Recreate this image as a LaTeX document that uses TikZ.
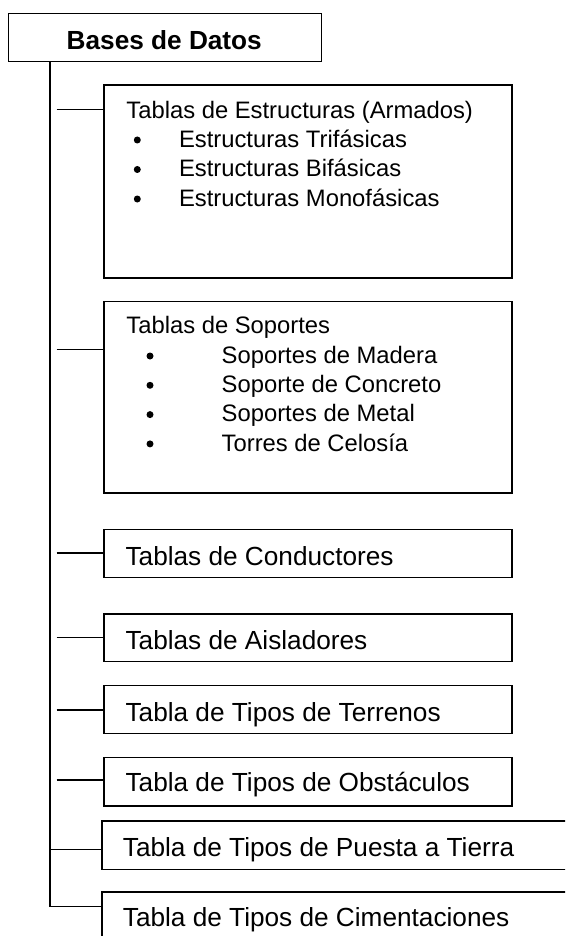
\documentclass[tikz,border=0pt]{standalone}
\usepackage{fontspec}
\setmainfont{Liberation Sans}
\begin{document}
\begin{tikzpicture}[x=1pt,y=-1pt,
  box/.style={draw, line width=1.4pt, rectangle, inner sep=0pt, outer sep=0pt},
  link/.style={line width=1.4pt},
  small/.style={anchor=base west, inner sep=0pt, font=\fontsize{23.8}{28}\selectfont},
  big/.style={anchor=base west, inner sep=0pt, font=\fontsize{26.2}{30}\selectfont},
  dot/.style={circle, fill=black, inner sep=0pt, minimum size=7pt}]
\useasboundingbox (0,0) rectangle (565,936);
\clip (0,0) rectangle (565,936);
\fill[white] (0,0) rectangle (565,936);

% boxes
\node[box, minimum width=313.4pt, minimum height=48.4pt] (top) at (165,37.5) {};
\node[box, minimum width=408pt, minimum height=193pt] (b1) at (308,181.5) {};
\node[box, minimum width=408pt, minimum height=191.3pt] (b2) at (308,397.35) {};
\node[box, minimum width=408pt, minimum height=48pt] (b3) at (308,553.3) {};
\node[box, minimum width=408pt, minimum height=47.7pt] (b4) at (308,637.85) {};
\node[box, minimum width=408pt, minimum height=47.6pt] (b5) at (308,709.5) {};
\node[box, minimum width=408pt, minimum height=48.7pt] (b6) at (308,781.65) {};
\node[box, minimum width=498pt, minimum height=48.3pt] (b7) at (351,845.15) {};
\node[box, minimum width=498pt, minimum height=88pt] (b8) at (351,936) {};

% texts
\node[big, font=\fontsize{26.2}{30}\selectfont\bfseries] (ttop) at (66.5,50) {Bases de Datos};

\node[small] (t1) at (126.2,118.3) {Tablas de Estructuras (Armados)};
\node[dot] (d11) at (137.3,140) {};
\node[dot] (d12) at (137.3,169.5) {};
\node[dot] (d13) at (137.3,199) {};
\node[small] (t11) at (178.8,147.3) {Estructuras Trifásicas};
\node[small] (t12) at (178.8,176.8) {Estructuras Bifásicas};
\node[small] (t13) at (178.8,206.3) {Estructuras Monofásicas};

\node[small] (t2) at (126.2,333.3) {Tablas de Soportes};
\node[dot] (d21) at (150,356) {};
\node[dot] (d22) at (150,385.3) {};
\node[dot] (d23) at (150,414.6) {};
\node[dot] (d24) at (150,443.9) {};
\node[small] (t21) at (221.5,363.3) {Soportes de Madera};
\node[small] (t22) at (221.5,392.6) {Soporte de Concreto};
\node[small] (t23) at (221.5,421.9) {Soportes de Metal};
\node[small] (t24) at (221.5,451.2) {Torres de Celosía};

\node[big] (t3) at (125.4,565) {Tablas de Conductores};
\node[big] (t4) at (125.4,649) {Tablas de Aisladores};
\node[big] (t5) at (125.4,721.7) {Tabla de Tipos de Terrenos};
\node[big] (t6) at (125.4,791.7) {Tabla de Tipos de Obstáculos};
\node[big] (t7) at (122.7,856.7) {Tabla de Tipos de Puesta a Tierra};
\node[big] (t8) at (122.7,926.7) {Tabla de Tipos de Cimentaciones};

% connectors
\coordinate (t0) at (50,61.7);
\coordinate (tend) at (50,906.7);
\coordinate (c1) at (56.7,109.3);
\coordinate (c2) at (56.7,349.3);
\coordinate (c3) at (56.7,553);
\coordinate (c4) at (56.7,637.3);
\coordinate (c5) at (56.7,710);
\coordinate (c6) at (56.7,780);
\coordinate (c7) at (50,849.3);
\draw[link] (t0) -- (tend) -- (tend -| b8.west);
\draw[link] (c1) -- (c1 -| b1.west);
\draw[link] (c2) -- (c2 -| b2.west);
\draw[link] (c3) -- (c3 -| b3.west);
\draw[link] (c4) -- (c4 -| b4.west);
\draw[link] (c5) -- (c5 -| b5.west);
\draw[link] (c6) -- (c6 -| b6.west);
\draw[link] (c7) -- (c7 -| b7.west);
\end{tikzpicture}
\end{document}
